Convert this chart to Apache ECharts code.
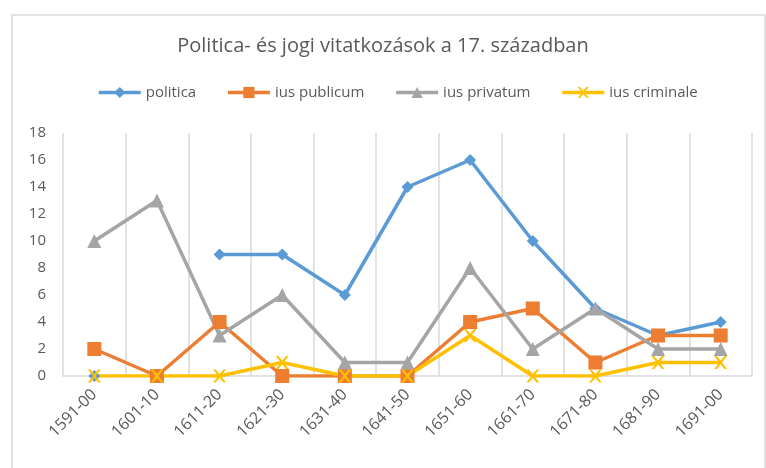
<!DOCTYPE html>
<html>
<head>
<meta charset="utf-8">
<script src="https://cdn.jsdelivr.net/npm/echarts@6/dist/echarts.min.js"></script>
<style>
  html, body { margin: 0; padding: 0; background: #fff; }
  #chart { width: 766px; height: 468px; }
</style>
</head>
<body>
<div id="chart"></div>
<script>
// évtizedek
const decades = ['1591-00', '1601-10', '1611-20', '1621-30', '1631-40', '1641-50',
                 '1651-60', '1661-70', '1671-80', '1681-90', '1691-00'];

// sorozatok
const politica     = [0, null, 9, 9, 6, 14, 16, 10, 5, 3, 4];
const iusPublicum  = [2, 0, 4, 0, 0, 0, 4, 5, 1, 3, 3];
const iusPrivatum  = [10, 13, 3, 6, 1, 1, 8, 2, 5, 2, 2];
const iusCriminale = [0, 0, 0, 1, 0, 0, 3, 0, 0, 1, 1];

const textColor = '#595959';
const gridColor = '#D9D9D9';
// x alakú jelölő
const crossPath = 'path://M0,0 L2,0 L5,3.5 L8,0 L10,0 L6,5 L10,10 L8,10 L5,6.5 L2,10 L0,10 L4,5 Z';

const chart = echarts.init(document.getElementById('chart'));

function lineSeries(name, data, color, symbol, size) {
  return {
    name: name,
    type: 'line',
    data: data,
    symbol: symbol,
    symbolSize: size,
    showAllSymbol: true,
    lineStyle: { width: 3.5, color: color },
    itemStyle: { color: color },
    emphasis: { disabled: true },
    z: 3
  };
}

const option = {
  animation: false,
  backgroundColor: '#fff',
  textStyle: { fontFamily: 'Open Sans' },
  graphic: [{
    type: 'rect',
    shape: { x: 12, y: 15, width: 753, height: 470 },
    style: { fill: 'none', stroke: gridColor, lineWidth: 1.5 },
    silent: true
  }],
  title: {
    text: 'Politica- és jogi vitatkozások a 17. században',
    left: 'center',
    top: 31,
    textStyle: { color: textColor, fontSize: 20, fontWeight: 'normal', fontFamily: 'Open Sans' }
  },
  legend: {
    top: 80,
    left: 92,
    itemWidth: 42,
    itemHeight: 14,
    itemGap: 30,
    lineStyle: { width: 3.5 },
    textStyle: { color: textColor, fontSize: 15, fontFamily: 'Open Sans' },
    data: ['politica', 'ius publicum', 'ius privatum', 'ius criminale']
  },
  grid: { left: 63, right: 14, top: 133, bottom: 92 },
  xAxis: {
    type: 'category',
    data: decades,
    boundaryGap: true,
    axisLine: { lineStyle: { color: gridColor, width: 1.5 } },
    axisTick: { show: false },
    splitLine: { show: true, lineStyle: { color: gridColor, width: 1.5 } },
    axisLabel: { color: textColor, fontSize: 16, rotate: 45, interval: 0, margin: 16 }
  },
  yAxis: {
    type: 'value',
    min: 0,
    max: 18,
    interval: 2,
    axisLine: { show: false },
    axisTick: { show: false },
    splitLine: { show: false },
    axisLabel: { color: textColor, fontSize: 15, margin: 17 }
  },
  series: [
    lineSeries('politica', politica, '#5B9BD5', 'diamond', 12),
    lineSeries('ius publicum', iusPublicum, '#ED7D31', 'rect', 14),
    lineSeries('ius privatum', iusPrivatum, '#A5A5A5', 'triangle', 14),
    lineSeries('ius criminale', iusCriminale, '#FFC000', crossPath, 13)
  ]
};

chart.setOption(option);
</script>
</body>
</html>
